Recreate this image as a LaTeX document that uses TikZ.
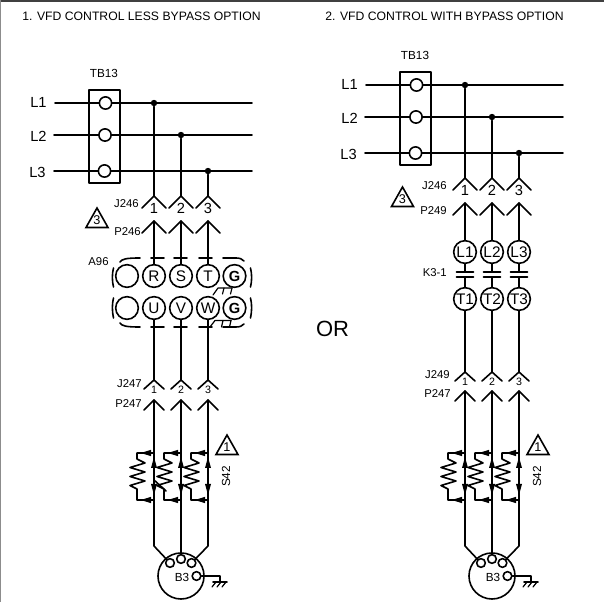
\documentclass[tikz,border=0pt]{standalone}
\usepackage{fontspec}
\setmainfont{Liberation Sans}
\usetikzlibrary{calc}
\tikzset{
  wire/.style={line width=1.2pt,line cap=round,line join=round},
  thin wire/.style={line width=0.9pt,line cap=round,line join=round},
  lbl/.style={inner sep=0pt,font=\fontsize{8.5}{9}\selectfont},
  biglbl/.style={inner sep=0pt,font=\fontsize{11}{12}\selectfont},
  ttl/.style={inner sep=0pt,anchor=west,font=\fontsize{9.15}{10}\selectfont},
  term/.style={circle,draw,fill=white,line width=1.2pt,minimum size=9.2pt,inner sep=0pt},
  coil/.style={circle,draw,fill=white,line width=1.2pt,minimum size=17pt,inner sep=0pt,font=\fontsize{11.5}{12}\selectfont},
  pinc/.style={circle,draw,fill=white,line width=1.2pt,minimum size=6.5pt,inner sep=0pt},
  dotn/.style={circle,fill=black,minimum size=4.8pt,inner sep=0pt},
  warn/.style={line width=1.2pt,line join=miter}
}
\newcommand{\chev}[3]{\draw[wire] ($(#1)+(-#2,#3)$) -- (#1) -- ($(#1)+(#2,#3)$);}
\newcommand{\warntri}[4]{%
  \draw[warn] (#1,#2) -- (#1+11,#2+19.5) -- (#1-11,#2+19.5) -- cycle;
  \node[lbl,font=\fontsize{9.5}{10}\selectfont] (#4) at (#1,#2+12.5) {#3};}
\newcommand{\lineblock}[3]{%
\begin{scope}[shift={(#2,#3)}]
  \draw[wire] (89,90) rectangle (120,183);
  \node[lbl,font=\fontsize{8.8}{9}\selectfont] (#1tb) at (104,73) {TB13};
  \node[biglbl] (#1la) at (38.5,102) {L1};
  \node[biglbl] (#1lb) at (38.5,136) {L2};
  \node[biglbl] (#1lc) at (37.5,172) {L3};
  \coordinate (#1sa) at (55,103); \coordinate (#1sb) at (54,135); \coordinate (#1sc) at (54,171);
  \coordinate (#1ea) at (252,103); \coordinate (#1eb) at (252,135); \coordinate (#1ec) at (252,171);
  \draw[wire] (#1sa) -- (#1ea);
  \draw[wire] (#1sb) -- (#1eb);
  \draw[wire] (#1sc) -- (#1ec);
  \node[term] (#1ta) at (105.5,103) {};
  \node[term] (#1tb2) at (105,135) {};
  \node[term] (#1tc) at (104.5,171) {};
  \node[dotn] (#1da) at (154,103) {};
  \node[dotn] (#1db) at (181,135) {};
  \node[dotn] (#1dc) at (208,171) {};
  \coordinate (#1ja) at (154,196); \coordinate (#1jb) at (181,196); \coordinate (#1jc) at (208,196);
  \coordinate (#1pa) at (154,221); \coordinate (#1pb) at (181,221); \coordinate (#1pc) at (208,221);
  \draw[wire] (#1da) -- (#1ja);
  \draw[wire] (#1db) -- (#1jb);
  \draw[wire] (#1dc) -- (#1jc);
  \chev{#1ja}{12}{12}\chev{#1jb}{12}{12}\chev{#1jc}{12}{12}
  \chev{#1pa}{12}{12}\chev{#1pb}{12}{12}\chev{#1pc}{12}{12}
  \node[lbl,font=\fontsize{11}{11}\selectfont] (#1na) at (154,208.5) {1};
  \node[lbl,font=\fontsize{11}{11}\selectfont] (#1nb) at (181,208.5) {2};
  \node[lbl,font=\fontsize{11}{11}\selectfont] (#1nc) at (208,208.5) {3};
\end{scope}}
\newcommand{\resistor}[2]{%
  \coordinate (#1tr) at (#2,453); \coordinate (#1br) at (#2,500);
  \coordinate (#1tl) at (#2-17,453); \coordinate (#1bl) at (#2-17,500);
  \draw[wire] (#1tr) -- (#1tl) -- (#2-17,459) -- (#2-9,463) -- (#2-24,467.5) -- (#2-9,472) -- (#2-24,476.5) -- (#2-9,481) -- (#2-24,485.5) -- (#2-17,489) -- (#1bl) -- (#1br);
  \fill (#2-13,453) -- (#2-3,449.8) -- (#2-3,456.2) -- cycle;
  \fill (#2-13,500) -- (#2-3,496.8) -- (#2-3,503.2) -- cycle;
  \fill (#2,457) -- (#2-3,468) -- (#2+3,468) -- cycle;
  \fill (#2,495) -- (#2-3,484) -- (#2+3,484) -- cycle;
}
\newcommand{\motorblock}[3]{%
\begin{scope}[shift={(#2,0)}]
  \coordinate (#1pa) at (154,#3); \coordinate (#1pb) at (181,#3); \coordinate (#1pc) at (208,#3);
  \chev{#1pa}{10}{10}\chev{#1pb}{10}{10}\chev{#1pc}{10}{10}
  \node[circle,draw,line width=1.2pt,minimum size=34.5pt,inner sep=0pt] (#1m) at (181,576) {};
  \node[pinc] (#1pi) at (170,563) {};
  \node[pinc] (#1pj) at (181,559) {};
  \node[pinc] (#1pk) at (191.5,563) {};
  \node[pinc] (#1pl) at (196.5,576) {};
  \draw[wire] (#1pa) -- (154,546) -- (#1pi);
  \draw[wire] (#1pb) -- (#1pj);
  \draw[wire] (#1pc) -- (208,546) -- (#1pk);
  \resistor{#1ra}{154}\resistor{#1rb}{181}\resistor{#1rc}{208}
  \node[lbl,font=\fontsize{8.8}{9}\selectfont] (#1bt) at (182,577) {B3};
  \coordinate (#1g) at (220,582);
  \draw[wire] (#1pl) -- (220,576) -- (#1g);
  \draw[wire] (213,582) -- (227,582);
  \foreach \q in {216,221,226}{\draw[thin wire] (\q,582) -- (\q-4,587);}
  \warntri{227}{435}{1}{#1wt}
  \node[lbl,rotate=90,font=\fontsize{8.8}{9}\selectfont] (#1sf) at (226,476.5) {S42};
\end{scope}}
\begin{document}
\begin{tikzpicture}[x=0.75pt,y=-0.75pt]
\useasboundingbox (0,0) rectangle (604,602);
\fill[white] (0,0) rectangle (604,602);
\draw[line width=1.2pt,black!75] (0,0.8) -- (604,0.8);
\draw[line width=0.8pt,black!45] (0.8,0) -- (0.8,602);

\node[ttl] (title1) at (22,16) {1.\hspace{3.5pt}VFD CONTROL LESS BYPASS OPTION};
\node[ttl] (title2) at (325,16) {2.\hspace{3.5pt}VFD CONTROL WITH BYPASS OPTION};
\node[inner sep=0pt,font=\fontsize{16.5}{17}\selectfont] (or) at (332.5,329) {OR};

% ---------- left panel ----------
\lineblock{a}{0}{0}
\warntri{97}{208}{3}{awt}
\node[lbl,anchor=east] (aj) at (139,204) {J246};
\node[lbl,anchor=east] (ap) at (141,232) {P246};
\node[lbl] (aa) at (98.5,262) {A96};

\foreach \n/\x/\y/\t in {o/127/276/{},r/154/276/R,s/181/276/S,t/208/276/T,u/154/308/U,v/181/308/V,w/208/308/W,q/127/308/{}}
  \node[coil] (a\n) at (\x,\y) {\t};
\node[coil,font=\fontsize{11}{12}\selectfont\bfseries] (ag) at (234.5,276) {G};
\node[coil,font=\fontsize{11}{12}\selectfont\bfseries] (ah) at (234.5,308) {G};

\draw[wire] (apa) -- (ar);
\draw[wire] (apb) -- (as);
\draw[wire] (apc) -- (at);
\coordinate (aja2) at (154,380); \coordinate (ajb2) at (181,380); \coordinate (ajc2) at (208,380);
\draw[wire] (au) -- (aja2);
\draw[wire] (av) -- (ajb2);
\draw[wire] (aw) -- (ajc2);
\chev{aja2}{10}{9}\chev{ajb2}{10}{9}\chev{ajc2}{10}{9}
\foreach \x/\t in {154/1,181/2,208/3}
  \node[lbl,font=\fontsize{8}{8}\selectfont] at (\x,390) {\t};
\node[lbl,anchor=east] (aj2) at (142,384) {J247};
\node[lbl,anchor=east] (ap2) at (142,404) {P247};

% A96 dashed outline
\draw[wire] (120,262) .. controls (122,259) and (126,258) .. (140,258);
\draw[wire] (151,258) -- (164,258);
\draw[wire] (174,258) -- (187,258);
\draw[wire] (199,258) -- (212,258);
\draw[wire] (223,258) -- (236,258) .. controls (240,258) and (242,259) .. (244,261);
\draw[wire] (113.5,268) .. controls (112,274) and (112,281) .. (113.5,287);
\draw[wire] (250.5,268) .. controls (252,274) and (252,281) .. (250.5,287);
\draw[wire] (113.5,298) .. controls (112,304) and (112,311) .. (113.5,318);
\draw[wire] (250.5,298) .. controls (252,304) and (252,311) .. (250.5,318);
\draw[wire] (120,323) .. controls (122,326) and (126,327) .. (140,327);
\draw[wire] (151,327) -- (164,327);
\draw[wire] (174,327) -- (187,327);
\draw[wire] (199,327) -- (212,327);
\draw[wire] (223,327) -- (236,327) .. controls (240,327) and (242,326) .. (244,324);
% chassis grounds
\draw[thin wire] (213,295) -- (218,288) -- (232,288);
\foreach \q in {224,232}{\draw[thin wire] (\q,288) -- (\q-1.5,294);}
\draw[thin wire] (210,327) -- (215,320.5) -- (231,320.5);
\foreach \q in {223,231}{\draw[thin wire] (\q,320.5) -- (\q-1.5,327);}

\motorblock{b}{0}{400}
\draw[wire] (154,480) -- (166,491);

% ---------- right panel ----------
\lineblock{c}{311}{-18}
\warntri{402.5}{187}{3}{cwt}
\node[lbl,anchor=east] (cj) at (447,186) {J246};
\node[lbl,anchor=east] (cp) at (447,211) {P249};
\node[lbl,anchor=east] (ck) at (447,273) {K3-1};

\foreach \n/\x/\t in {a/465/1,b/492/2,c/519/3}{
  \node[coil] (cl\n) at (\x,252) {L\t};
  \node[coil] (cu\n) at (\x,299) {T\t};
  \coordinate (cct\n) at (\x,272);
  \coordinate (ccb\n) at (\x,277);
  \coordinate (cjj\n) at (\x,372);
  \draw[wire] (cl\n) -- (cct\n);
  \draw[wire] (ccb\n) -- (cu\n);
  \draw[wire] (\x-8.5,272) -- (\x+8.5,272);
  \draw[wire] (\x-8.5,277) -- (\x+8.5,277);
  \draw[wire] (cu\n) -- (cjj\n);
  \chev{cjj\n}{10}{9}
  \node[lbl,font=\fontsize{8}{8}\selectfont] at (\x,381.5) {\t};
}
\draw[wire] (cpa) -- (cla);
\draw[wire] (cpb) -- (clb);
\draw[wire] (cpc) -- (clc);
\node[lbl,anchor=east] (cj2) at (450,375) {J249};
\node[lbl,anchor=east] (cp2) at (451,394) {P247};

\motorblock{d}{311}{391}
\end{tikzpicture}
\end{document}
